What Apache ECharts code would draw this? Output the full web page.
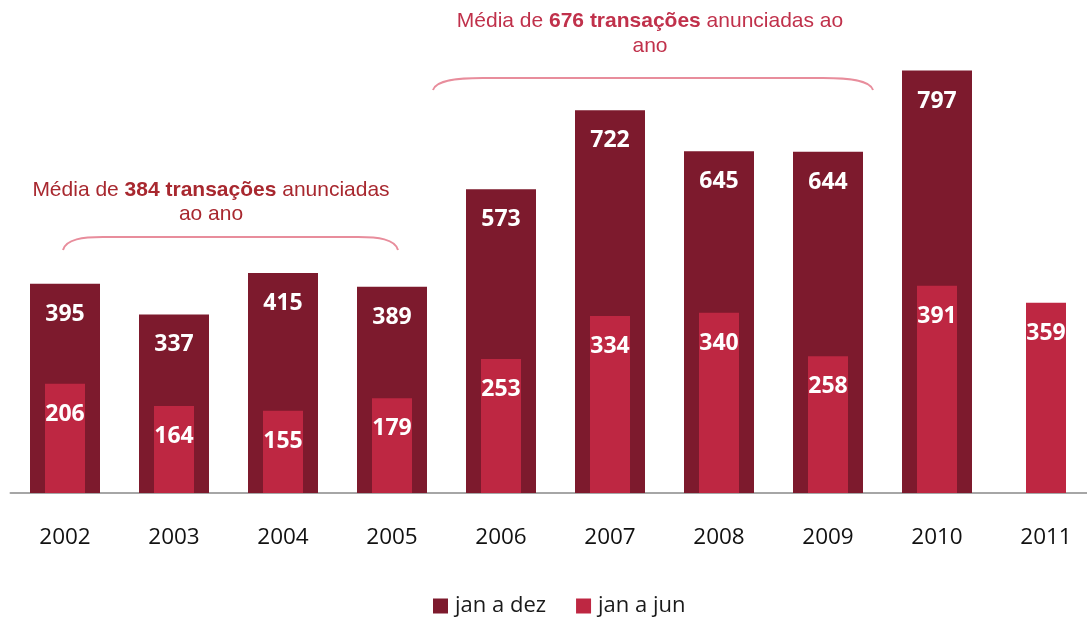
<!DOCTYPE html>
<html><head><meta charset="utf-8">
<script src="https://cdn.jsdelivr.net/npm/echarts@6/dist/echarts.min.js"></script>
<style>html,body{margin:0;padding:0;background:#fff}#c{width:1087px;height:617px}</style>
</head><body><div id="c"></div>
<script>
const years = ['2002','2003','2004','2005','2006','2007','2008','2009','2010','2011'];
const janDez = [395,337,415,389,573,722,645,644,797,null];
const janJun = [206,164,155,179,253,334,340,258,391,359];
const seriesNames = ['jan a dez','jan a jun'];
const avgLow = 384;
const avgHigh = 676;

function brace(x1, x2, yEnd, yTop, r) {
  const st = {fill:null, stroke:'#e88d9c', lineWidth:2};
  return [
    {type:'bezierCurve', shape:{x1:x1, y1:yEnd, cpx1:x1+3, cpy1:yTop+2, cpx2:x1+r*0.5, cpy2:yTop, x2:x1+r, y2:yTop}, style:st},
    {type:'line', shape:{x1:x1+r, y1:yTop, x2:x2-r, y2:yTop}, style:st},
    {type:'bezierCurve', shape:{x1:x2-r, y1:yTop, cpx1:x2-r*0.5, cpy1:yTop, cpx2:x2-3, cpy2:yTop+2, x2:x2, y2:yEnd}, style:st}
  ];
}

const chart = echarts.init(document.getElementById('c'));
const lbl = {show:true, position:'insideTop', distance:19, color:'#fff', fontFamily:'Open Sans', fontWeight:'bold', fontSize:23};
chart.setOption({
  animation:false,
  grid:{left:10.5, width:1090, top:69, height:424, outerBoundsMode:'none', containLabel:false},
  legend:{left:433, top:595, padding:0, itemWidth:15, itemHeight:15, itemGap:30, icon:'rect',
    textStyle:{fontFamily:'Open Sans', fontSize:22, color:'#1a1a1a', padding:[0,0,0,2]}, data:seriesNames},
  xAxis:[
    {type:'category', data:years, axisTick:{show:false},
     axisLine:{lineStyle:{color:'#a6a6a6', width:2}},
     axisLabel:{margin:33, fontFamily:'Open Sans', fontSize:22.5, color:'#111'}},
    {type:'category', data:years, show:false}
  ],
  yAxis:{type:'value', min:0, max:800, show:false, splitLine:{show:false}},
  series:[
    {name:seriesNames[0], type:'bar', data:janDez, barWidth:70, xAxisIndex:0, itemStyle:{color:'#7d1a2d'}, label:lbl},
    {name:seriesNames[1], type:'bar', data:janJun, barWidth:40, xAxisIndex:1, itemStyle:{color:'#be2742'}, label:lbl}
  ],
  graphic:[
    {type:'text', x:211, y:178, style:{text:'Média de {b|'+avgLow+' transações} anunciadas\nao ano', textAlign:'center', fill:'#a8282f', font:'21px "Liberation Sans"', lineHeight:24,
      rich:{b:{fontWeight:'bold', fontFamily:'Liberation Sans', fontSize:21, fill:'#a8282f', lineHeight:24}}}},
    {type:'text', x:650, y:9, style:{text:'Média de {b|'+avgHigh+' transações} anunciadas ao\nano', textAlign:'center', fill:'#c0314b', font:'21px "Liberation Sans"', lineHeight:25,
      rich:{b:{fontWeight:'bold', fontFamily:'Liberation Sans', fontSize:21, fill:'#c0314b', lineHeight:25}}}}
  ].concat(brace(63, 398, 250, 237, 40)).concat(brace(433, 873, 90, 78, 50))
});
</script></body></html>
